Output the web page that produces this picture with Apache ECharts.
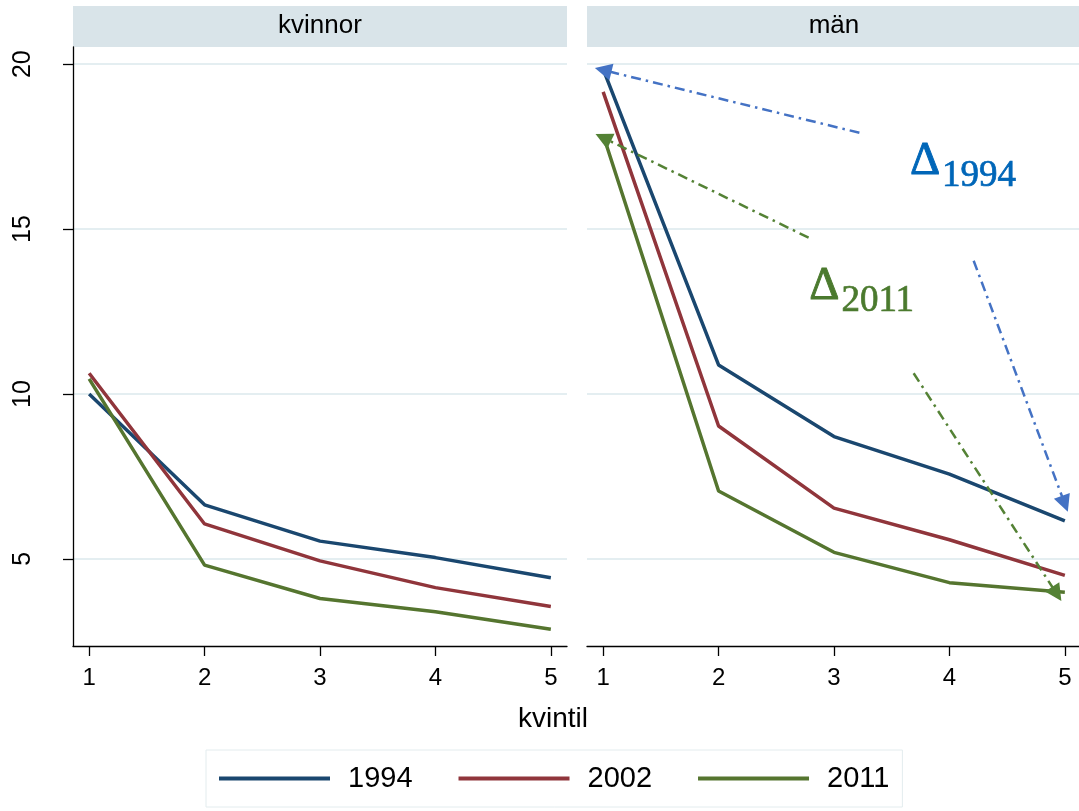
<!DOCTYPE html>
<html><head><meta charset="utf-8">
<script src="https://cdn.jsdelivr.net/npm/echarts@6/dist/echarts.min.js"></script>
<style>html,body{margin:0;padding:0;background:#fff}#c{width:1079px;height:811px}</style>
</head><body><div id="c"></div>
<script>
// ---- data ----
const kvintil = [1, 2, 3, 4, 5];
const panels = ['kvinnor', 'män'];
const years = ['1994', '2002', '2011'];
const kvinnor1994 = [10.00, 6.64, 5.54, 5.04, 4.43];
const kvinnor2002 = [10.63, 6.06, 4.94, 4.13, 3.56];
const kvinnor2011 = [10.46, 4.81, 3.80, 3.40, 2.87];
const man1994 = [19.85, 10.88, 8.71, 7.57, 6.15];
const man2002 = [19.16, 9.03, 6.54, 5.58, 4.50];
const man2011 = [17.85, 7.06, 5.20, 4.28, 3.99];
const yTicks = [5, 10, 15, 20];
const xTicks = [1, 2, 3, 4, 5];
const xTitle = 'kvintil';
// annotation arrows in the 'män' panel (data coordinates): [from, to]
const arrows1994 = [[[3.22, 17.92], [1.00, 19.82]], [[4.21, 14.04], [5.00, 6.67]]];
const arrows2011 = [[[2.78, 14.74], [1.00, 17.77]], [[3.69, 10.63], [4.93, 3.94]]];
const deltaLabels = [
  { year: '1994', pos: [3.657, 16.76], color: '#0066b8' },
  { year: '2011', pos: [2.785, 12.97], color: '#4b7a2e' }
];

// ---- styling ----
const FONT = 'Liberation Sans, Arial, sans-serif';
const lineColors = ['#1a476f', '#90353b', '#55752f'];
const arrowColors = ['#4472c4', '#548235'];
const Y_MIN = 2.36, Y_MAX = 20.52, X_MIN = 0.86, X_MAX = 5.14;
const gridColor = '#e4eef1';

function yAxis(gi, show) {
  return {
    type: 'value', gridIndex: gi, min: Y_MIN, max: Y_MAX,
    axisLine: { show: show, onZero: false, lineStyle: { color: '#000', width: 1.3 } },
    axisTick: { show: show, length: 10, customValues: yTicks, lineStyle: { color: '#000', width: 1.3 } },
    axisLabel: { show: show, customValues: yTicks, rotate: 90, margin: 37, fontSize: 25, color: '#000', fontFamily: FONT },
    splitLine: { show: true, lineStyle: { color: gridColor, width: 2 } }
  };
}
function xAxis(gi) {
  return {
    type: 'value', gridIndex: gi, min: X_MIN, max: X_MAX,
    axisLine: { show: true, onZero: false, lineStyle: { color: '#000', width: 1.3 } },
    axisTick: { show: true, length: 10, customValues: xTicks, lineStyle: { color: '#000', width: 1.3 } },
    axisLabel: { show: true, customValues: xTicks, margin: 20, fontSize: 24, color: '#000', fontFamily: FONT },
    splitLine: { show: false }
  };
}

const panelData = [[kvinnor1994, kvinnor2002, kvinnor2011], [man1994, man2002, man2011]];
const series = [];
panelData.forEach((sets, p) => sets.forEach((vals, i) => {
  series.push({
    type: 'line', name: years[i], xAxisIndex: p, yAxisIndex: p,
    data: kvintil.map((k, j) => [k, vals[j]]),
    symbol: 'none', showSymbol: false, silent: true,
    lineStyle: { color: lineColors[i], width: 3.5 },
    itemStyle: { color: lineColors[i] }
  });
}));
[arrows1994, arrows2011].forEach((arr, i) => {
  series.push({
    type: 'line', name: 'arrows' + i, xAxisIndex: 1, yAxisIndex: 1, data: [],
    markLine: {
      silent: true, symbol: ['none', 'triangle'], symbolSize: 17,
      label: { show: false },
      lineStyle: { type: [10, 5, 2.5, 5], width: 2.5, color: arrowColors[i] },
      itemStyle: { color: arrowColors[i] },
      emphasis: { disabled: true },
      data: arr.map(a => [{ coord: a[0] }, { coord: a[1] }])
    }
  });
});
series.push({
  type: 'scatter', name: 'delta', xAxisIndex: 1, yAxisIndex: 1, silent: true,
  symbolSize: 0.1, itemStyle: { color: 'rgba(0,0,0,0)' },
  data: deltaLabels.map(d => ({
    value: d.pos,
    label: {
      show: true, position: 'right', distance: 0, opacity: 1,
      formatter: '{d|\u0394}{s|' + d.year + '}',
      rich: {
        d: { fontFamily: 'Liberation Serif, serif', fontSize: 47, lineHeight: 47, verticalAlign: 'bottom', padding: [0, 2, 9, 0], color: d.color, textBorderColor: d.color, textBorderWidth: 0.9 },
        s: { fontFamily: 'Liberation Serif, serif', fontSize: 37, lineHeight: 37, verticalAlign: 'bottom', color: d.color, textBorderColor: d.color, textBorderWidth: 0.7 }
      }
    }
  }))
});

const chart = echarts.init(document.getElementById('c'), null, { renderer: 'canvas' });
chart.setOption({
  animation: false,
  backgroundColor: '#fff',
  grid: [
    { left: 73, top: 47, width: 494, height: 599, outerBoundsMode: 'none', containLabel: false },
    { left: 587, top: 47, width: 494, height: 599, outerBoundsMode: 'none', containLabel: false }
  ],
  xAxis: [xAxis(0), xAxis(1)],
  yAxis: [yAxis(0, true), yAxis(1, false)],
  legend: {
    data: years, left: 206, top: 750, orient: 'horizontal',
    icon: 'rect', itemWidth: 111, itemHeight: 4, itemGap: 46,
    padding: [14, 13, 14, 13], borderColor: '#e3ecee', borderWidth: 1,
    textStyle: { fontSize: 29, color: '#000', fontFamily: FONT, padding: [0, 0, 0, 13] },
    selectedMode: false
  },
  graphic: [
    { type: 'rect', shape: { x: 73, y: 6, width: 494, height: 41 }, style: { fill: '#d9e4e9' }, silent: true },
    { type: 'rect', shape: { x: 587, y: 6, width: 494, height: 41 }, style: { fill: '#d9e4e9' }, silent: true },
    { type: 'text', x: 320, y: 26, style: { text: panels[0], fontSize: 26, fontFamily: FONT, fill: '#000', align: 'center', verticalAlign: 'middle' }, silent: true },
    { type: 'text', x: 834, y: 26, style: { text: panels[1], fontSize: 26, fontFamily: FONT, fill: '#000', align: 'center', verticalAlign: 'middle' }, silent: true },
    { type: 'text', x: 553, y: 719, style: { text: xTitle, fontSize: 28, fontFamily: FONT, fill: '#000', align: 'center', verticalAlign: 'middle' }, silent: true }
  ],
  series: series
});
</script>
</body></html>
